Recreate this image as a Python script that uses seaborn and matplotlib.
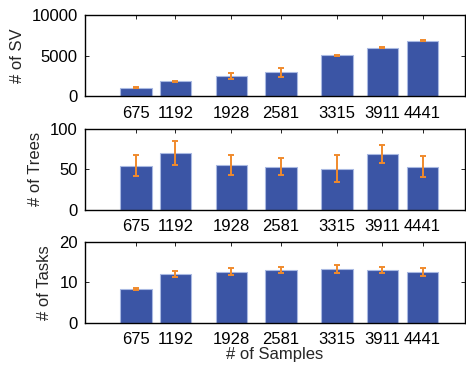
import matplotlib
matplotlib.use("Agg")
import matplotlib.pyplot as plt
import seaborn as sns
import pandas as pd
import numpy as np

samples = [675, 1192, 1928, 2581, 3315, 3911, 4441]
sv_mean = [1050, 1850, 2530, 2930, 5050, 6000, 6840]
sv_err = [60, 70, 370, 590, 80, 80, 60]
trees_mean = [54.5, 70, 55.5, 53, 51, 69, 53.5]
trees_err = [13, 15, 12.5, 10.5, 17, 10.6, 13.3]
tasks_mean = [8.3, 12.0, 12.6, 13.1, 13.3, 13.1, 12.6]
tasks_err = [0.2, 0.75, 0.85, 0.75, 1.0, 0.75, 0.95]

ylabels = ["# of SV", "# of Trees", "# of Tasks"]
ylims = [10000, 100, 20]
yticks = [[0, 5000, 10000], [0, 50, 100], [0, 10, 20]]

sns.set_theme(style="white")
plt.rcParams['font.family'] = ['Liberation Sans', 'DejaVu Sans']
plt.rcParams['font.size'] = 12

fig = plt.figure(figsize=(4.66, 3.65), dpi=100)
bottoms = [0.737, 0.4255, 0.116]
height = 0.221
bar_color = "#3b55a5"
edge_color = "#a9b9e2"
err_color = "#f08a2c"

series = [(sv_mean, sv_err), (trees_mean, trees_err), (tasks_mean, tasks_err)]
for i, (means, errs) in enumerate(series):
    ax = fig.add_axes([0.182, bottoms[i], 0.816, height])
    df = pd.DataFrame({"samples": samples, "value": means})
    sns.barplot(data=df, x="samples", y="value", native_scale=True,
                color=bar_color, edgecolor=edge_color, linewidth=0.8,
                saturation=1, width=0.8, errorbar=None, ax=ax)
    ax.errorbar(samples, means, yerr=errs, fmt="none", ecolor=err_color,
                elinewidth=1.4, capsize=2.2, capthick=1.4, zorder=5)
    ax.set_xlim(0, 5000)
    ax.set_ylim(0, ylims[i])
    ax.set_xticks(samples)
    ax.set_xticklabels([str(s) for s in samples], fontsize=12)
    ax.set_yticks(yticks[i])
    ax.set_yticklabels([str(t) for t in yticks[i]], fontsize=12)
    ax.set_ylabel(ylabels[i], fontsize=12, labelpad=5)
    ax.set_xlabel("# of Samples" if i == 2 else "", fontsize=12, labelpad=0)
    for s in ax.spines.values():
        s.set_visible(True)
        s.set_color("black")
        s.set_linewidth(1.0)
    ax.tick_params(axis="x", pad=7)
    ax.tick_params(axis="y", pad=5)
    ax.tick_params(axis="both", direction="in", length=3, width=0.6,
                   top=True, right=True, bottom=True, left=True,
                   colors="black", labelcolor="black")
    ax.grid(False)

fig.savefig("out.png", dpi=100)
